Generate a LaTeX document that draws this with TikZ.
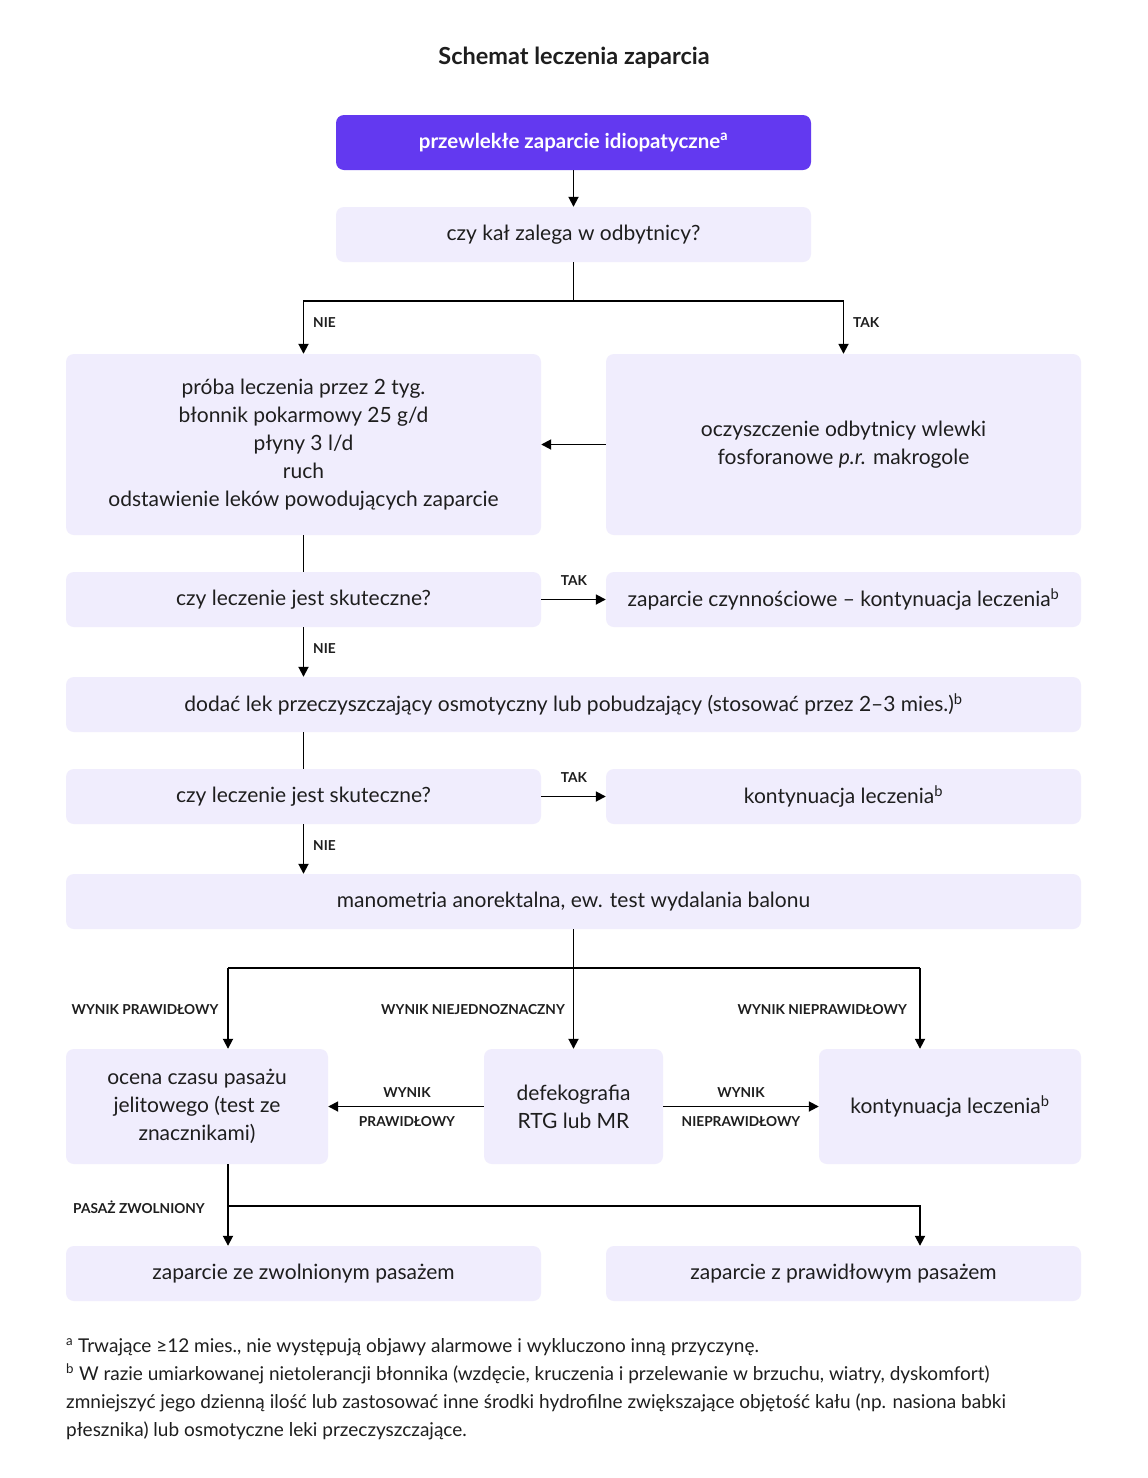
\documentclass[tikz,border=0pt]{standalone}
\usepackage{fontspec}
\setmainfont{Lato}
\usetikzlibrary{arrows.meta,calc}
\definecolor{purp}{HTML}{6339F0}
\definecolor{lav}{HTML}{F0EDFD}
\definecolor{ink}{HTML}{1E1E1E}
\begin{document}
\begin{tikzpicture}[x=1pt,y=1pt,
 box/.style={fill=lav, rounded corners=8pt, align=center, inner sep=0pt, text=ink, font=\fontsize{21}{28}\selectfont},
 wide/.style={minimum width=475pt, minimum height=55pt},
 conn/.style={line width=1.8pt, draw=black},
 arr/.style={conn, -{Triangle[length=10pt,width=10pt]}},
 lab/.style={font=\bfseries\fontsize{13.7}{15}\selectfont, text=ink, inner sep=0pt},
 foot/.style={font=\fontsize{19}{28}\selectfont, text=ink, inner sep=0pt, anchor=base west}]
\useasboundingbox (0,0) rectangle (1148,-1478);
\fill[white] (0,0) rectangle (1148,-1478);

\node[font=\bfseries\fontsize{23.5}{26}\selectfont, text=ink] (title) at (574,-58) {Schemat leczenia zaparcia};

\node[box, wide, fill=purp, text=white, font=\bfseries\fontsize{20.5}{28}\selectfont] (b1) at (573.5,-142.5) {przewlekłe zaparcie idiopatyczne\textsuperscript{a}};
\node[box, wide] (b2) at (573.5,-234.5) {czy kał zalega w odbytnicy?};
\node[box, minimum width=475pt, minimum height=181pt] (b3) at (303.5,-444.5) {próba leczenia przez 2 tyg.\\ błonnik pokarmowy 25 g/d\\ płyny 3 l/d\\ ruch\\ odstawienie leków powodujących zaparcie};
\node[box, minimum width=475pt, minimum height=181pt] (b4) at (843.5,-444.5) {oczyszczenie odbytnicy wlewki\\ fosforanowe \textit{p.r.} makrogole};
\node[box, wide] (b5) at (303.5,-599.5) {czy leczenie jest skuteczne?};
\node[box, wide] (b6) at (843.5,-599.5) {zaparcie czynnościowe – kontynuacja leczenia\textsuperscript{b}};
\node[box, minimum width=1015pt, minimum height=55pt] (b7) at (573.5,-704.5) {dodać lek przeczyszczający osmotyczny lub pobudzający (stosować przez 2–3 mies.)\textsuperscript{b}};
\node[box, wide] (b8) at (303.5,-796.5) {czy leczenie jest skuteczne?};
\node[box, wide] (b9) at (843.5,-796.5) {kontynuacja leczenia\textsuperscript{b}};
\node[box, minimum width=1015pt, minimum height=55pt] (b10) at (573.5,-901.5) {manometria anorektalna, ew. test wydalania balonu};
\node[box, minimum width=262pt, minimum height=115pt] (b11) at (197,-1106.5) {ocena czasu pasażu\\ jelitowego (test ze\\ znacznikami)};
\node[box, minimum width=179pt, minimum height=115pt] (b12) at (573.5,-1106.5) {defekografia\\ RTG lub MR};
\node[box, minimum width=262pt, minimum height=115pt] (b13) at (950,-1106.5) {kontynuacja leczenia\textsuperscript{b}};
\node[box, wide] (b14) at (303.5,-1273.5) {zaparcie ze zwolnionym pasażem};
\node[box, wide] (b15) at (843.5,-1273.5) {zaparcie z prawidłowym pasażem};

% connectors
\draw[arr] (b1.south) -- (b2.north);
\coordinate (s1) at (573.5,-301);
\draw[conn] (b2.south) -- (s1);
\draw[arr] (s1) -| (b3.north);
\draw[arr] (s1) -| (b4.north);
\node[lab, anchor=west] (nie1) at (313,-323) {NIE};
\node[lab, anchor=west] (tak1) at (853,-323) {TAK};
\draw[arr] (b4.west) -- (b3.east);
\draw[conn] (b3.south) -- (b5.north);
\draw[arr] (b5.east) -- (b6.west);
\node[lab] (tak2) at (574,-581) {TAK};
\draw[arr] (b5.south) -- (b5.south |- b7.north);
\node[lab, anchor=west] (nie2) at (313,-649) {NIE};
\draw[conn] (b8.north |- b7.south) -- (b8.north);
\draw[arr] (b8.east) -- (b9.west);
\node[lab] (tak3) at (574,-778) {TAK};
\draw[arr] (b8.south) -- (b8.south |- b10.north);
\node[lab, anchor=west] (nie3) at (313,-846) {NIE};

\coordinate (j0) at (573.5,-968);
\coordinate (j1) at (228,-968);
\coordinate (j2) at (920,-968);
\draw[arr] (b10.south) -- (b12.north);
\draw[conn] (j1) -- (j2);
\draw[arr] (j1) -- (j1 |- b11.north);
\draw[arr] (j2) -- (j2 |- b13.north);
\node[lab] (l1) at (145,-1010) {WYNIK PRAWIDŁOWY};
\node[lab, anchor=east] (l2) at (565,-1010) {WYNIK NIEJEDNOZNACZNY};
\node[lab, anchor=east] (l3) at (907,-1010) {WYNIK NIEPRAWIDŁOWY};

\draw[arr] (b12.west) -- (b11.east);
\node[lab] (l4) at (407,-1093) {WYNIK};
\node[lab] (l5) at (407,-1122) {PRAWIDŁOWY};
\draw[arr] (b12.east) -- (b13.west);
\node[lab] (l6) at (741,-1093) {WYNIK};
\node[lab] (l7) at (741,-1122) {NIEPRAWIDŁOWY};

\coordinate (k1) at (228,-1206);
\coordinate (k2) at (920,-1206);
\draw[arr] (b11.south -| k1) -- (k1 |- b14.north);
\draw[arr] (k1) -- (k2) -- (k2 |- b15.north);
\node[lab, anchor=east] (l8) at (205,-1207) {PASAŻ ZWOLNIONY};

% footnotes
\node[foot] (f1) at (66,-1352) {\textsuperscript{a} Trwające ≥12 mies., nie występują objawy alarmowe i wykluczono inną przyczynę.};
\node[foot] (f2) at (66,-1380) {\textsuperscript{b} W razie umiarkowanej nietolerancji błonnika (wzdęcie, kruczenia i przelewanie w brzuchu, wiatry, dyskomfort)};
\node[foot] (f3) at (66,-1408) {zmniejszyć jego dzienną ilość lub zastosować inne środki hydrofilne zwiększające objętość kału (np. nasiona babki};
\node[foot] (f4) at (66,-1436) {płesznika) lub osmotyczne leki przeczyszczające.};
\end{tikzpicture}
\end{document}
